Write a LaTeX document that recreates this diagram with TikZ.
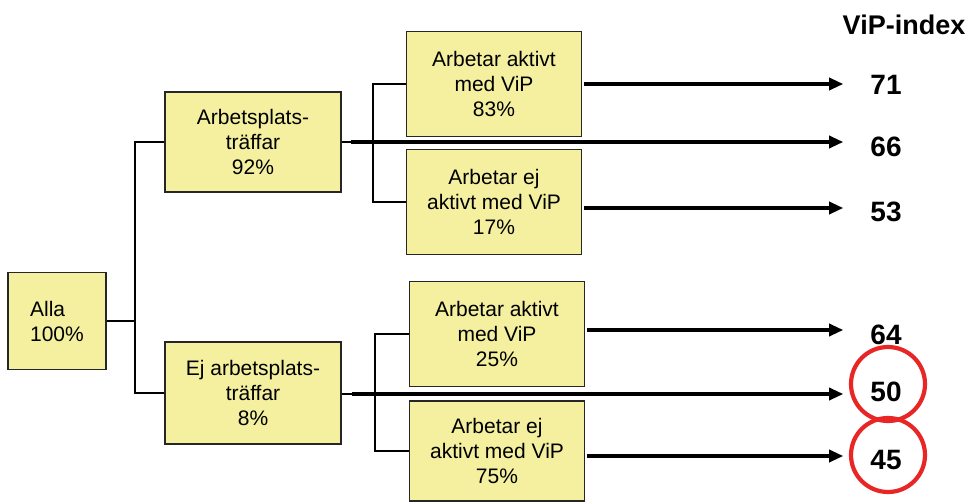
\documentclass[tikz,border=0pt]{standalone}
\usepackage{fontspec}
\setmainfont{Liberation Sans}
\usetikzlibrary{arrows.meta}
\definecolor{boxfill}{RGB}{244,240,160}
\definecolor{ringred}{RGB}{232,38,38}

\begin{document}
\begin{tikzpicture}[
  x=1pt,y=-1pt,
  box/.style={draw=black!85,line width=1.2pt,fill=boxfill,inner sep=0pt,
    align=center,font=\fontsize{21}{25}\selectfont},
  first/.style={box,minimum width=176pt,minimum height=100pt},
  second/.style={box,minimum width=175pt,minimum height=105pt},
  value/.style={font=\fontsize{28}{30}\selectfont\bfseries,inner sep=0pt},
  wire/.style={line width=1.4pt,draw=black},
  flow/.style={line width=3.2pt,-{Triangle[length=14pt,width=12pt]},
    shorten <=2pt,shorten >=27pt},
  ring/.style={draw=ringred,line width=4.2pt}
]
\useasboundingbox (0,0) rectangle (970,503);

\node[box,align=left,minimum width=98pt,minimum height=97pt] (alla) at (57,321) {Alla\\100\%};
\node[first] (apt) at (253,142) {Arbetsplats-\\träffar\\92\%};
\node[first,minimum height=102pt] (ejapt) at (253,393) {Ej arbetsplats-\\träffar\\8\%};

\node[second] (aktivA) at (494,84) {Arbetar aktivt\\med ViP\\83\%};
\node[second] (ejaktivA) at (494,202) {Arbetar ej\\aktivt med ViP\\17\%};
\node[second] (aktivB) at (497,334) {Arbetar aktivt\\med ViP\\25\%};
\node[second,minimum height=100pt] (ejaktivB) at (497,451) {Arbetar ej\\aktivt med ViP\\75\%};

\node[font=\fontsize{27}{30}\selectfont\bfseries,inner sep=0pt] (head) at (904,25) {ViP-index};
\node[value] (v71) at (886,85) {71};
\node[value] (v66) at (886,147) {66};
\node[value] (v53) at (886,212) {53};
\node[value] (v64) at (886,335) {64};
\node[value] (v50) at (886,392) {50};
\node[value] (v45) at (886,460) {45};

\coordinate (split) at (135,321);
\coordinate (splitA) at (373,142);
\coordinate (splitB) at (375,394);
\coordinate (aptout) at (351,142);
\coordinate (ejaptout) at (352,394);

\draw[wire] (alla.east) -- (split);
\draw[wire] (apt.west) -| (split) |- (ejapt.west);
\draw[wire] (aktivA.west) -| (splitA) |- (ejaktivA.west);
\draw[wire] (aktivB.west) -| (splitB) |- (ejaktivB.west);
\draw[wire] (apt.east) -- (aptout);
\draw[wire] (ejapt.east |- ejaptout) -- (ejaptout);

\draw[flow] (aktivA.east) -- (aktivA.east -| v71.west);
\draw[flow,shorten <=0pt] (aptout) -- (aptout -| v66.west);
\draw[flow] ([yshift=-6pt]ejaktivA.east) -- ([yshift=-6pt]ejaktivA.east -| v53.west);
\draw[flow] ([yshift=4pt]aktivB.east) -- ([yshift=4pt]aktivB.east -| v64.west);
\draw[flow,shorten <=0pt] (ejaptout) -- (ejaptout -| v50.west);
\draw[flow] ([yshift=-5pt]ejaktivB.east) -- ([yshift=-5pt]ejaktivB.east -| v45.west);

\draw[ring] ([xshift=2pt,yshift=8pt]v50.center) circle[radius=37];
\draw[ring] ([xshift=2pt,yshift=5pt]v45.center) circle[radius=37];
\end{tikzpicture}
\end{document}
